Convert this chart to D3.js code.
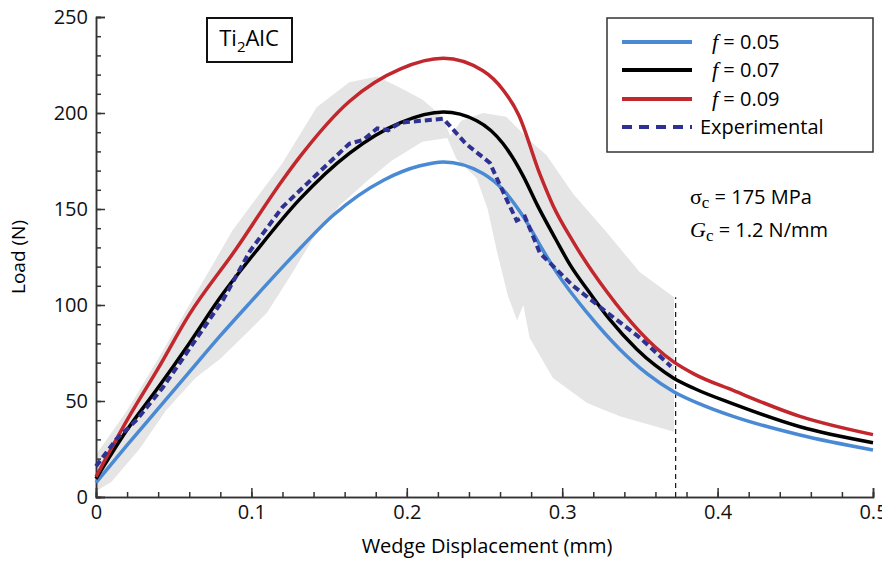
<!DOCTYPE html>
<html>
<head>
<meta charset="utf-8">
<script src="https://cdn.jsdelivr.net/npm/d3@7"></script>
<style>
  body { margin: 0; background: #fff; }
  svg { display: block; font-family: "Open Sans", sans-serif; }
  .axis path, .axis line { stroke: #333; stroke-width: 1.5; }
  .axis text { font-size: 20px; fill: #111; font-family: "Open Sans", sans-serif; }
</style>
</head>
<body>
<div id="chart"></div>
<script>
// load-displacement curves, [displacement (mm), load (N)]
const f05 = [[0, 7.5], [0.02, 27], [0.04, 46], [0.06, 65], [0.08, 84], [0.1, 102], [0.125, 124],
  [0.153, 147], [0.185, 165], [0.2085, 172.5], [0.2235, 174.5], [0.249, 168.5], [0.262, 160],
  [0.275, 146], [0.288, 128], [0.2964, 117], [0.316, 96], [0.337, 77], [0.355, 64],
  [0.3715, 55], [0.39, 48], [0.41, 42], [0.453, 32.3], [0.5, 24.5]];
const f07 = [[0, 9.5], [0.02, 35], [0.04, 57], [0.06, 80], [0.08, 104], [0.103, 128],
  [0.131, 155], [0.163, 179], [0.196, 195], [0.2235, 200.5], [0.245, 196], [0.262, 184],
  [0.275, 167], [0.284, 152], [0.296, 134], [0.305, 121], [0.318, 106], [0.33, 93],
  [0.348, 77], [0.36, 68.5], [0.3715, 62], [0.385, 56.5], [0.41, 48.5], [0.453, 36.6], [0.5, 28.3]];
const f09 = [[0, 10.5], [0.02, 40], [0.04, 67], [0.06, 95], [0.09, 129], [0.12, 165],
  [0.131, 177], [0.163, 206], [0.196, 223], [0.2235, 228.5], [0.249, 222], [0.262, 212],
  [0.272, 199], [0.2857, 168], [0.294, 152], [0.307, 133], [0.3286, 107], [0.35, 86],
  [0.36, 78], [0.3715, 70.5], [0.385, 64], [0.41, 55.5], [0.453, 42], [0.5, 32.5]];
const experimental = [[0, 16], [0.013, 30], [0.026, 40], [0.043, 57], [0.06, 77], [0.082, 103],
  [0.099, 128], [0.12, 151], [0.142, 168], [0.163, 184], [0.172, 186], [0.181, 192],
  [0.188, 191], [0.196, 195], [0.21, 196], [0.2235, 197], [0.228, 193], [0.238, 184],
  [0.2535, 174], [0.2557, 170], [0.2642, 155], [0.2707, 144], [0.276, 146], [0.2857, 127],
  [0.307, 110], [0.329, 96], [0.35, 83], [0.37, 68]];

// scatter envelope of the experiments
const bandUpper = [[0, 22], [0.02, 45], [0.04, 72], [0.06, 100], [0.088, 139], [0.12, 174],
  [0.142, 203], [0.163, 216], [0.181, 219], [0.196, 213], [0.21, 207], [0.223, 198],
  [0.228, 188], [0.235, 196], [0.249, 200], [0.264, 198], [0.28, 185], [0.29, 178],
  [0.307, 158], [0.329, 137.5], [0.35, 117], [0.372, 104]];
const bandLower = [[0, 3], [0.01, 8], [0.028, 25], [0.045, 45], [0.064, 62], [0.08, 72],
  [0.0965, 85], [0.11, 96], [0.125, 115], [0.14, 135], [0.157, 152], [0.175, 165],
  [0.19, 175], [0.21, 185], [0.226, 187], [0.232, 176], [0.245, 166], [0.252, 150],
  [0.258, 128], [0.265, 105], [0.271, 92], [0.275, 100], [0.279, 83], [0.294, 62],
  [0.316, 49], [0.337, 42], [0.372, 34]];

const cutoff = 0.373;   // end of experimental data
const cutoffTop = 104;

const series = [
  { name: "0.05", data: f05, color: "#4a8ad4" },
  { name: "0.07", data: f07, color: "#000000" },
  { name: "0.09", data: f09, color: "#c1272d" }
];
const expColor = "#2e3192";

const W = 882, H = 563;
const space = { top: 17, right: 9, bottom: 66, left: 96 };
const w = W - space.left - space.right,
  h = H - space.top - space.bottom;

const svg = d3.select('#chart')
  .append('svg')
  .attr('width', W)
  .attr('height', H);

const g = svg.append('g')
  .attr('transform', `translate(${space.left},${space.top})`);

const x = d3.scaleLinear().domain([0, 0.5]).range([0, w]);
const y = d3.scaleLinear().domain([0, 250]).range([h, 0]);

// gray band
const bandPts = bandUpper.concat(bandLower.slice().reverse());
g.append('path')
  .attr('d', d3.line().x(d => x(d[0])).y(d => y(d[1]))(bandPts) + 'Z')
  .attr('fill', '#e5e5e5');

// cut-off line
g.append('line')
  .attr('x1', x(cutoff)).attr('x2', x(cutoff))
  .attr('y1', y(0)).attr('y2', y(cutoffTop))
  .attr('stroke', '#111')
  .attr('stroke-width', 1.2)
  .attr('stroke-dasharray', '5,4');

// axes
const xMinor = d3.axisBottom(x).tickValues(d3.range(0, 0.501, 0.02)).tickSize(-5).tickFormat('');
const xMajor = d3.axisBottom(x).tickValues([0, 0.1, 0.2, 0.3, 0.4, 0.5]).tickSize(-9)
  .tickPadding(8).tickFormat(d => d === 0 ? '0' : d3.format('.1f')(d));
const yMinor = d3.axisLeft(y).tickValues(d3.range(0, 251, 10)).tickSize(-5).tickFormat('');
const yMajor = d3.axisLeft(y).tickValues([0, 50, 100, 150, 200, 250]).tickSize(-9)
  .tickPadding(8);

g.append('g').attr('class', 'axis').attr('transform', `translate(0,${h})`).call(xMinor);
g.append('g').attr('class', 'axis').attr('transform', `translate(0,${h})`).call(xMajor);
g.append('g').attr('class', 'axis').call(yMinor);
g.append('g').attr('class', 'axis').call(yMajor);

// model curves
const line = d3.line().x(d => x(d[0])).y(d => y(d[1])).curve(d3.curveMonotoneX);
series.forEach(s => {
  g.append('path')
    .attr('d', line(s.data))
    .attr('fill', 'none')
    .attr('stroke', s.color)
    .attr('stroke-width', 3.5);
});

// experimental
g.append('path')
  .attr('d', d3.line().x(d => x(d[0])).y(d => y(d[1]))(experimental))
  .attr('fill', 'none')
  .attr('stroke', expColor)
  .attr('stroke-width', 4)
  .attr('stroke-dasharray', '7,4');

// axis titles
svg.append('text')
  .text('Wedge Displacement (mm)')
  .attr('x', 487).attr('y', 553)
  .attr('text-anchor', 'middle')
  .style('font-size', '20px');

svg.append('text')
  .text('Load (N)')
  .attr('transform', 'translate(25,257) rotate(-90)')
  .attr('text-anchor', 'middle')
  .style('font-size', '19px');

// material label
svg.append('rect')
  .attr('x', 207).attr('y', 18).attr('width', 85).attr('height', 44)
  .attr('fill', '#fff').attr('stroke', '#111').attr('stroke-width', 2);
const ti = svg.append('text').attr('x', 249).attr('y', 46)
  .attr('text-anchor', 'middle').style('font-size', '22px');
ti.append('tspan').text('Ti');
ti.append('tspan').text('2').attr('dy', 6).style('font-size', '15px');
ti.append('tspan').text('AlC').attr('dy', -6);

// legend
const legend = svg.append('g').attr('id', 'legend');
legend.append('rect')
  .attr('x', 607).attr('y', 18).attr('width', 266).attr('height', 134)
  .attr('fill', '#fff').attr('stroke', '#333').attr('stroke-width', 1.5);
const rows = [42, 70, 99, 127];
series.forEach((s, i) => {
  legend.append('line')
    .attr('x1', 622).attr('x2', 692).attr('y1', rows[i]).attr('y2', rows[i])
    .attr('stroke', s.color).attr('stroke-width', 4);
  const t = legend.append('text').attr('x', 712).attr('y', rows[i] + 7).style('font-size', '20px');
  t.append('tspan').text('f').style('font-family', '"Liberation Serif", serif')
    .style('font-style', 'italic').style('font-size', '22px');
  t.append('tspan').text(' = ' + s.name);
});
legend.append('line')
  .attr('x1', 622).attr('x2', 692).attr('y1', rows[3]).attr('y2', rows[3])
  .attr('stroke', expColor).attr('stroke-width', 4).attr('stroke-dasharray', '10,7');
legend.append('text').attr('x', 700).attr('y', rows[3] + 7)
  .style('font-size', '20px').text('Experimental');

// parameters
const sig = svg.append('text').attr('x', 690).attr('y', 204).style('font-size', '20px');
sig.append('tspan').text('σ').style('font-family', '"Liberation Serif", serif').style('font-size', '22px');
sig.append('tspan').text('c').attr('dy', 4).style('font-family', '"Liberation Serif", serif').style('font-size', '17px');
sig.append('tspan').text(' = 175 MPa').attr('dy', -4);

const gc = svg.append('text').attr('x', 690).attr('y', 237).style('font-size', '20px');
gc.append('tspan').text('G').style('font-family', '"Liberation Serif", serif')
  .style('font-style', 'italic').style('font-size', '22px');
gc.append('tspan').text('c').attr('dy', 4).style('font-family', '"Liberation Serif", serif').style('font-size', '17px');
gc.append('tspan').text(' = 1.2 N/mm').attr('dy', -4);
</script>
</body>
</html>
